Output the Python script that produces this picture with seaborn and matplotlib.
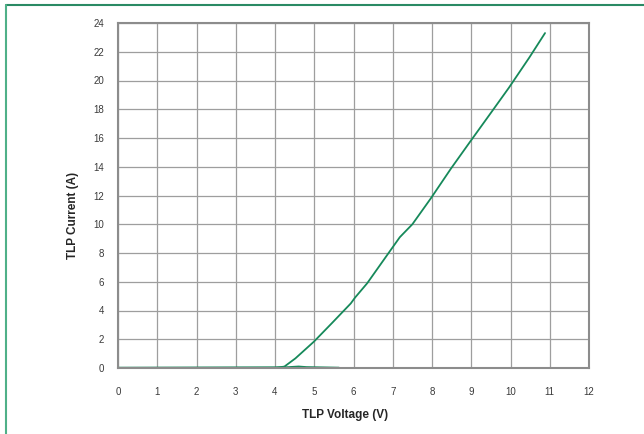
import numpy as np
import pandas as pd
import seaborn as sns
import matplotlib.pyplot as plt
from matplotlib.lines import Line2D

# TLP I-V curve
voltage = [0.0, 1.0, 2.0, 3.0, 4.0, 4.24, 4.52, 4.99, 5.46, 5.93, 6.04, 6.35,
           6.92, 7.18, 7.5, 7.97, 8.49, 8.96, 9.54, 9.96, 10.48, 10.88]
current = [0.0, 0.0, 0.0, 0.0, 0.0, 0.1, 0.67, 1.83, 3.15, 4.49, 4.9, 5.9,
           8.1, 9.1, 10.0, 11.8, 13.9, 15.7, 17.9, 19.5, 21.6, 23.3]

# leakage trace sitting on the x axis
leak_v = [0.0, 4.3, 4.6, 4.8, 5.63]
leak_i = [0.0, 0.03, 0.08, 0.04, 0.0]

xticks = list(range(0, 13))
yticks = list(range(0, 25, 2))

df = pd.DataFrame({"v": voltage, "i": current})
df_leak = pd.DataFrame({"v": leak_v, "i": leak_i})

sns.set_style("white")
plt.rcParams["font.family"] = ["Liberation Sans", "DejaVu Sans"]

fig = plt.figure(figsize=(6.44, 4.34), dpi=100)
ax = fig.add_axes([118 / 644, 66 / 434, 471 / 644, 345 / 434])

green = "#16895a"
sns.lineplot(data=df, x="v", y="i", ax=ax, color=green, linewidth=1.3, sort=False)
sns.lineplot(data=df_leak, x="v", y="i", ax=ax, color=green, linewidth=1.8, sort=False)

ax.set_xlim(0, 12)
ax.set_ylim(0, 24)
ax.set_xticks(xticks)
ax.set_yticks(yticks)
ax.tick_params(length=0, labelsize=7, colors="#3a3a3a")
ax.tick_params(axis="x", pad=14)
ax.tick_params(axis="y", pad=10)
ax.grid(True, color="#9e9e9e", linewidth=0.9)
for s in ax.spines.values():
    s.set_color("#8c8c8c")
    s.set_linewidth(1.5)

ax.set_xlabel("TLP Voltage (V)", fontsize=8.5, fontweight="bold")
ax.set_ylabel("TLP Current (A)", fontsize=8.5, fontweight="bold")
ax.xaxis.set_label_coords(0.482, -0.118)
ax.yaxis.set_label_coords(-0.083, 0.443)

# green frame at top and left of the figure
fig.add_artist(Line2D([5.5 / 644, 1.0], [1 - 5 / 434, 1 - 5 / 434],
                      transform=fig.transFigure, color="#2a8a64", linewidth=1.5))
fig.add_artist(Line2D([5.5 / 644, 5.5 / 644], [0.0, 1 - 5 / 434],
                      transform=fig.transFigure, color="#4fb088", linewidth=1.5))

fig.savefig("out.png", dpi=100)
